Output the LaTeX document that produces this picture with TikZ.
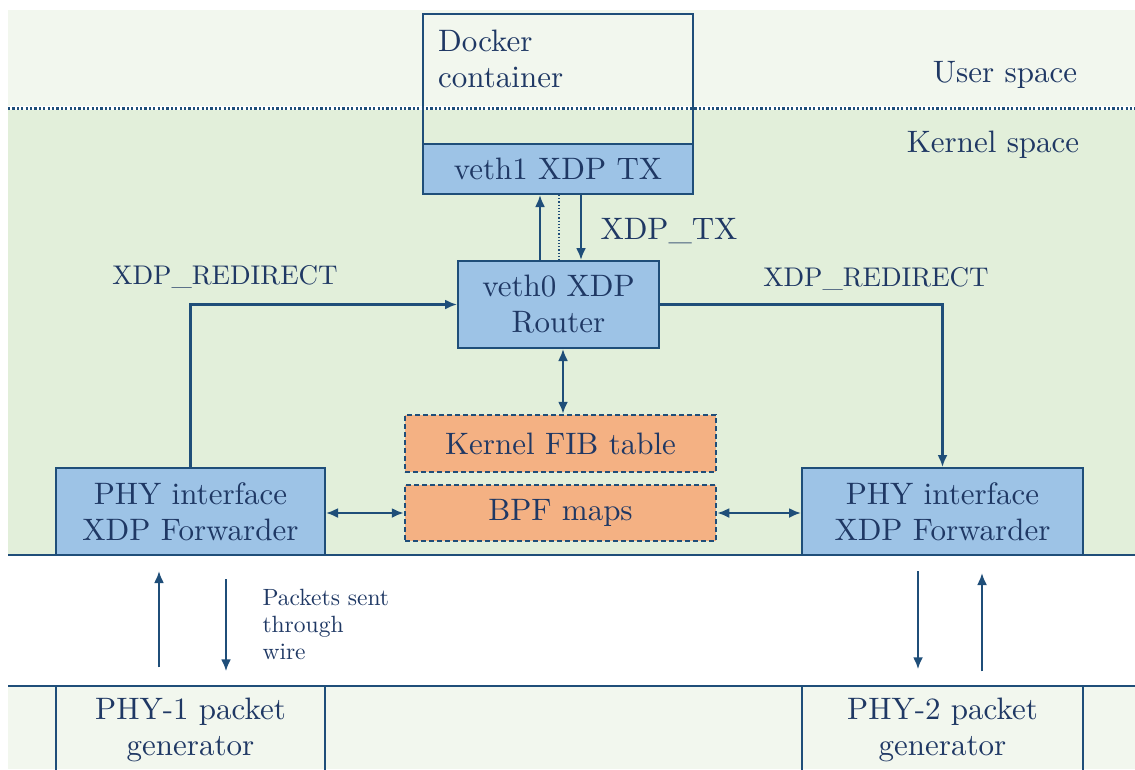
\documentclass[tikz,border=0pt]{standalone}
\usepackage{fontspec}
\setmainfont{lmroman10-regular}[Extension=.otf]
\usetikzlibrary{arrows.meta,calc}
\definecolor{userbg}{HTML}{F2F7EE}
\definecolor{kernelbg}{HTML}{E2EFDA}
\definecolor{boxblue}{HTML}{9DC3E6}
\definecolor{boxorange}{HTML}{F4B183}
\definecolor{linec}{HTML}{1F4E79}
\definecolor{textc}{HTML}{1F3864}
\tikzset{
  bigtxt/.style={font=\fontsize{31}{36}\selectfont, text=textc},
  midtxt/.style={font=\fontsize{27}{32}\selectfont, text=textc},
  smalltxt/.style={font=\fontsize{23.5}{27}\selectfont, text=textc},
  bluebox/.style={draw=linec, line width=2pt, fill=boxblue, bigtxt, align=center, inner sep=0pt},
  orangebox/.style={draw=linec, line width=2.5pt, dash pattern=on 5pt off 3pt, fill=boxorange, bigtxt, align=center, inner sep=0pt},
  plainbox/.style={draw=linec, line width=1.5pt, bigtxt, align=center, inner sep=0pt},
  arr/.style={draw=linec, line width=2.2pt, -{Latex[length=12pt,width=10pt]}},
  darr/.style={draw=linec, line width=2.2pt, {Latex[length=12pt,width=10pt]}-{Latex[length=12pt,width=10pt]}},
}
\begin{document}
\begin{tikzpicture}[x=1pt,y=-1pt]
\useasboundingbox (0,0) rectangle (1135,769);
% backgrounds
\fill[userbg] (8,10) rectangle (1135,108);
\fill[kernelbg] (8,108) rectangle (1135,555);
\fill[userbg] (8,686) rectangle (1135,769);
\draw[white, line width=3.5pt] (8,108) -- (1135,108);
\draw[linec, line width=3pt, dash pattern=on 2.2pt off 2.2pt] (8,108) -- (1135,108);
% region labels
\node[bigtxt] (user) at (1005,75) {User space};
\node[bigtxt] (kernel) at (993,145) {Kernel space};
% docker container
\node[draw=linec, line width=1.5pt, minimum width=270pt, minimum height=180pt, inner sep=0pt] (docker) at (558,104) {};
\node[bigtxt, anchor=north west, align=left, inner sep=0pt] (dockertxt) at (438,30) {Docker\\container};
\node[bluebox, minimum width=270pt, minimum height=50pt] (veth1) at (558,169) {veth1 XDP TX};
% router
\node[bluebox, minimum width=201pt, minimum height=87pt] (router) at (558.5,304.5) {veth0 XDP\\Router};
% maps
\node[orangebox, minimum width=311pt, minimum height=57pt] (fib) at (560.5,443.5) {Kernel FIB table};
\node[orangebox, minimum width=311pt, minimum height=56pt] (bpf) at (560.5,513) {BPF maps};
% PHY forwarders
\node[bluebox, minimum width=269pt, minimum height=87pt] (phyL) at (190.5,511.5) {PHY interface\\XDP Forwarder};
\node[bluebox, minimum width=281pt, minimum height=87pt] (phyR) at (942.5,511.5) {PHY interface\\XDP Forwarder};
\draw[linec, line width=2.5pt] (8,555) -- (1135,555);
% generators
\begin{scope}
\clip (0,0) rectangle (1135,769);
\node[plainbox, minimum width=269pt, minimum height=100pt] (gen1) at (190.5,736) {};
\node[plainbox, minimum width=281pt, minimum height=100pt] (gen2) at (942.5,736) {};
\end{scope}
\node[bigtxt, align=center] (gen1txt) at (190.5,730) {PHY-1 packet\\generator};
\node[bigtxt, align=center] (gen2txt) at (942.5,730) {PHY-2 packet\\generator};
\draw[linec, line width=2pt] (8,686) -- (1135,686);
% veth connectors
\draw[arr] (540,0 |- router.north) -- (540,0 |- veth1.south);
\draw[arr] (581,0 |- veth1.south) -- (581,0 |- router.north);
\draw[linec, line width=1.2pt, dotted] (559,0 |- veth1.south) -- (559,0 |- router.north);
\node[bigtxt, anchor=west] (xdptx) at (597,231) {XDP\_TX};
% redirects
\draw[arr] (phyL.north) |- (router.west);
\draw[arr] (router.east) -| (phyR.north);
\node[midtxt] (redirL) at (225,277) {XDP\_REDIRECT};
\node[midtxt] (redirR) at (876,279) {XDP\_REDIRECT};
% map connectors
\draw[darr] (563,0 |- router.south) -- (563,0 |- fib.north);
\draw[darr] (bpf.west -| phyL.east) -- (bpf.west);
\draw[darr] (bpf.east) -- (bpf.east -| phyR.west);
% wire arrows
\draw[arr, shorten <=18pt, shorten >=15pt] (159,0 |- gen1.north) -- (159,0 |- phyL.south);
\draw[arr, shorten <=23pt, shorten >=14pt] (226,0 |- phyL.south) -- (226,0 |- gen1.north);
\draw[arr, shorten <=15pt, shorten >=16pt] (918,0 |- phyR.south) -- (918,0 |- gen2.north);
\draw[arr, shorten <=14pt, shorten >=17pt] (982,0 |- gen2.north) -- (982,0 |- phyR.south);
\node[smalltxt, anchor=west, align=left] (wire) at (259,624) {Packets sent\\through\\wire};
\end{tikzpicture}
\end{document}
